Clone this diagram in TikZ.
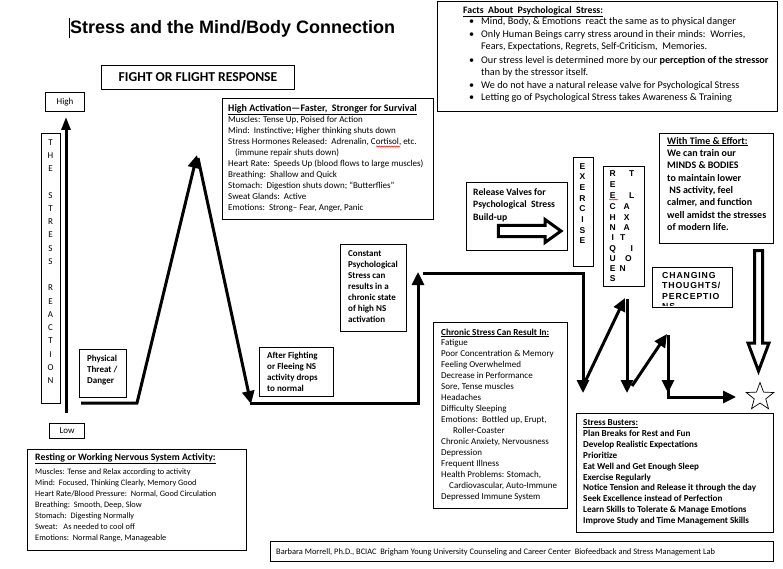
\documentclass[tikz,border=0pt]{standalone}
\usepackage{fontspec}
\setmainfont{Carlito}
\newfontfamily\arialf{Liberation Sans}
\newfontfamily\arialsp{Liberation Sans}[LetterSpace=10]
\usetikzlibrary{arrows.meta,shapes.geometric,decorations.pathmorphing}
\begin{document}
\begin{tikzpicture}[x=1pt,y=-1pt,
  bx/.style={draw, line width=1pt, inner sep=0pt, anchor=north west},
  tx/.style={anchor=north west, inner sep=0pt, align=left},
  ln/.style={anchor=base west, inner sep=0pt},
  nine/.style={font=\fontsize{9}{11}\selectfont},
  flow/.style={line width=3pt, -{Triangle[length=13pt,width=12pt]}},
  hollow/.style={line width=3pt, line join=miter, fill=white},
  vl/.style={inner sep=0pt, text height=6.1pt, text depth=0pt, font=\arialf\bfseries\fontsize{8.5}{10}\selectfont},
  sq/.style={red, line width=0.5pt, decorate, decoration={snake, segment length=2.5pt, amplitude=0.6pt}},
]
\useasboundingbox (0,0) rectangle (783,569);

% title
\node[anchor=west, inner sep=0pt, font=\arialf\bfseries\fontsize{18}{20}\selectfont] (title) at (70,29) {Stress and the Mind/Body Connection};
\draw[line width=0.8pt] (69.3,18) -- (69.3,38);

% fight or flight
\node[bx, minimum width=193pt, minimum height=24pt, font=\bfseries\fontsize{13.6}{15}\selectfont] (fight) at (101,65) {FIGHT OR FLIGHT RESPONSE};

% high / low
\node[bx, minimum width=39pt, minimum height=19pt, nine] (high) at (45,92) {High};
\node[bx, minimum width=35pt, minimum height=15pt, nine] (low) at (49,423) {Low};

% the stress reaction column
\node[bx, minimum width=19pt, minimum height=270pt] (srbox) at (41,133) {};
\foreach \c [count=\i from 0] in {T,H,E,,S,T,R,E,S,S,,R,E,A,C,T,I,O,N}
  \node[inner sep=0pt, text height=5.8pt, text depth=0pt, nine] (sr\i) at (50.5,142.3+13.24*\i) {\c};

% vertical axis arrow
\coordinate (axb) at (66,413);
\coordinate (axt) at (66,117);
\draw[line width=3pt, -{Triangle[length=13pt,width=9pt]}] (axb) -- (axt);

% physical threat
\node[bx, minimum width=47pt, minimum height=48pt] (phys) at (79,349) {};
\node[tx, font=\bfseries\fontsize{9}{10.6}\selectfont] (physt) at (87,355.4) {Physical\\Threat /\\Danger};

% high activation
\node[bx, minimum width=211pt, minimum height=121pt] (hact) at (222,98) {};
\node[tx, font=\fontsize{9}{11}\selectfont] (hactt) at (228,104) {{\fontsize{10}{11}\selectfont\textbf{\underline{High Activation—Faster,\ \ Stronger for Survival}}}\\
Muscles: Tense Up, Poised for Action\\
Mind:\ \ Instinctive; Higher thinking shuts down\\
Stress Hormones Released:\ \ Adrenalin, Cortisol, etc.\\
\hspace*{7pt}(immune repair shuts down)\\
Heart Rate:\ \ Speeds Up (blood flows to large muscles)\\
Breathing:\ \ Shallow and Quick\\
Stomach:\ \ Digestion shuts down; “Butterflies”\\
Sweat Glands:\ \ Active\\
Emotions:\ \ Strong-- Fear, Anger, Panic};
\draw[sq] (376,146.5) -- (400,146.5);

% after fighting
\node[bx, minimum width=74pt, minimum height=49pt] (after) at (259,347) {};
\node[tx, font=\bfseries\fontsize{9}{10.7}\selectfont] (aftert) at (267,352.4) {After Fighting\\or Fleeing NS\\activity drops\\to normal};

% constant psychological stress
\node[bx, minimum width=66pt, minimum height=87pt] (const) at (340,244) {};
\node[tx, font=\bfseries\fontsize{9}{11}\selectfont] (constt) at (348,250.4) {Constant\\Psychological\\Stress can\\results in a\\chronic state\\of high NS\\activation};

% facts box
\node[bx, minimum width=340pt, minimum height=110pt] (facts) at (437,1) {};
\begin{scope}[every node/.style={ln, font=\fontsize{10.2}{12}\selectfont}]
\node (f0) at (463,13.5) {\fontsize{9.8}{11}\selectfont\textbf{\underline{Facts\ \ About\ \ Psychological\ \ Stress:}}};
\node (fb1) at (469,25) {•};
\node (f1) at (481,25) {Mind, Body, \& Emotions\ \ react the same as to physical danger};
\node (fb2) at (469,37.5) {•};
\node (f2) at (481,37.5) {Only Human Beings carry stress around in their minds:\ \ Worries,};
\node (f3) at (481,49.5) {Fears, Expectations, Regrets, Self-Criticism,\ \ Memories.};
\node (fb4) at (469,64) {•};
\node (f4) at (481,64) {Our stress level is determined more by our \textbf{perception of the stressor}};
\node (f5) at (481,76) {than by the stressor itself.};
\node (fb6) at (469,89) {•};
\node (f6) at (481,89) {We do not have a natural release valve for Psychological Stress};
\node (fb7) at (469,101) {•};
\node (f7) at (481,101) {Letting go of Psychological Stress takes Awareness \& Training};
\end{scope}

% release valves
\node[bx, minimum width=101pt, minimum height=68pt] (rel) at (466,182) {};
\node[tx, font=\bfseries\fontsize{9.7}{12.5}\selectfont] (relt) at (473,188) {Release Valves for\\Psychological\ \ Stress\\Build-up};
\draw[hollow] (498.3,225.3) -- (545,225.3) -- (545,219.5) -- (561,231) -- (545,242.5) -- (545,236.7) -- (498.3,236.7) -- cycle;

% exercise
\node[bx, minimum width=20pt, minimum height=109pt] (exer) at (573,157) {};
\foreach \c [count=\i from 0] in {E,X,E,R,C,I,S,E}
  \node[vl] (ex\i) at (582.5,166+10.7*\i) {\c};

% relaxation techniques
\node[bx, minimum width=41pt, minimum height=120pt] (relax) at (603,166) {};
\foreach \c/\x/\y [count=\k] in {R/612.7/173.3, T/631.7/173.3, E/612.7/184.3, E/612.7/195, L/631.7/195, C/612.7/206.7, A/626.7/206.7, H/612.7/217.3, X/626.7/217.3, N/612.7/227.3, A/626.7/227.3, I/612.7/237.7, T/622.7/237.7, Q/612.7/248.3, I/631.7/248.3, U/612.7/258.3, O/628.3/258.3, E/612.7/268.3, N/622.7/268.3, S/612.7/278.3}
  \node[vl] (rl\k) at (\x,\y) {\c};
\draw[sq] (609,199.5) -- (618,199.5);

% with time and effort
\node[bx, minimum width=114pt, minimum height=110pt] (wte) at (659,133) {};
\node[tx, font=\bfseries\fontsize{10}{12.3}\selectfont] (wtet) at (667,137) {\underline{With Time \& Effort:}\\We can train our\\MINDS \& BODIES\\to maintain lower\\\ NS activity, feel\\calmer, and function\\well amidst the stresses\\of modern life.};

% changing thoughts
\node[bx, minimum width=80pt, minimum height=40pt] (chg) at (652,267) {};
\begin{scope}
\clip (652.5,267.5) rectangle (731.5,305);
\node[tx, font=\arialsp\bfseries\fontsize{8.7}{10.5}\selectfont] (chgt) at (662,272) {CHANGING\\THOUGHTS/\\PERCEPTIO\\NS};
\end{scope}

% hollow down arrow
\draw[hollow] (754.5,250.5) -- (762.5,250.5) -- (762.5,343) -- (769,343) -- (758.5,371) -- (748,343) -- (754.5,343) -- cycle;

% star
\node[star, star points=5, star point ratio=2.4, draw, line width=0.7pt, minimum size=29pt, inner sep=0pt] (goal) at (760,397) {};

% chronic stress
\node[bx, minimum width=134pt, minimum height=186pt] (chron) at (433,322) {};
\node[tx, font=\fontsize{9}{10.93}\selectfont] (chront) at (441,328.4) {{\fontsize{9.2}{11}\selectfont\textbf{\underline{Chronic Stress Can Result In:}}}\\
Fatigue\\Poor Concentration \& Memory\\Feeling Overwhelmed\\Decrease in Performance\\Sore, Tense muscles\\Headaches\\Difficulty Sleeping\\
Emotions:\ \ Bottled up, Erupt,\\\hspace*{12pt}Roller-Coaster\\Chronic Anxiety, Nervousness\\Depression\\Frequent Illness\\
Health Problems: Stomach,\\\hspace*{8pt}Cardiovascular, Auto-Immune\\Depressed Immune System};

% stress busters
\node[bx, minimum width=197pt, minimum height=119pt] (bust) at (576,413) {};
\node[tx, font=\bfseries\fontsize{9.1}{10.9}\selectfont] (bustt) at (583,419.4) {\underline{Stress Busters:}\\Plan Breaks for Rest and Fun\\Develop Realistic Expectations\\Prioritize\\Eat Well and Get Enough Sleep\\Exercise Regularly\\Notice Tension and Release it through the day\\Seek Excellence instead of Perfection\\Learn Skills to Tolerate \& Manage Emotions\\Improve Study and Time Management Skills};

% resting
\node[bx, minimum width=219pt, minimum height=101pt] (rest) at (27,449) {};
\node[tx, font=\bfseries\fontsize{9.8}{11}\selectfont] (restt) at (35,453) {\underline{Resting or Working Nervous System Activity:}};
\node[tx, font=\fontsize{8.3}{11.06}\selectfont] (restb) at (35,468.3) {Muscles: Tense and Relax according to activity\\Mind:\ \ Focused, Thinking Clearly, Memory Good\\Heart Rate/Blood Pressure:\ \ Normal, Good Circulation\\Breathing:\ \ Smooth, Deep, Slow\\Stomach:\ \ Digesting Normally\\Sweat:\ \ \ As needed to cool off\\Emotions:\ \ Normal Range, Manageable};

% footer
\node[bx, minimum width=503pt, minimum height=20pt] (foot) at (270,541) {};
\node[ln, font=\fontsize{8.4}{10}\selectfont] (foott) at (276,554) {Barbara Morrell, Ph.D., BCIAC\ \ Brigham Young University Counseling and Career Center\ \ Biofeedback and Stress Management Lab};

% main stress curve
\coordinate (p0) at (81,403);
\coordinate (p1) at (137,403);
\coordinate (p2) at (197,155);
\coordinate (p3) at (198,158);
\coordinate (p4) at (251,404);
\coordinate (p4b) at (250,403);
\coordinate (p5) at (418,403);
\coordinate (p6) at (418,272);
\coordinate (p7) at (423,273);
\coordinate (p8) at (583,273);
\coordinate (p9) at (583,393);
\coordinate (q0) at (585,382);
\coordinate (q1) at (625,298);
\coordinate (q2) at (627,299);
\coordinate (q3) at (627,393);
\coordinate (q4) at (632,386);
\coordinate (q5) at (667,334);
\coordinate (q6) at (668,335);
\coordinate (q7) at (668,393);
\coordinate (q7b) at (668,385);
\coordinate (q8) at (668,397);
\coordinate (q9) at (736,397);
\draw[flow] (p0) -- (p1) -- (p2);
\draw[flow] (p3) -- (p4);
\draw[flow] (p4b) -- (p5) -- (p6);
\draw[flow] (p7) -- (p8) -- (p9);
\draw[flow] (q0) -- (q1);
\draw[flow] (q2) -- (q3);
\draw[flow] (q4) -- (q5);
\draw[flow] (q6) -- (q7);
\draw[flow] (q7b) -- (q8) -- (q9);
\end{tikzpicture}
\end{document}
